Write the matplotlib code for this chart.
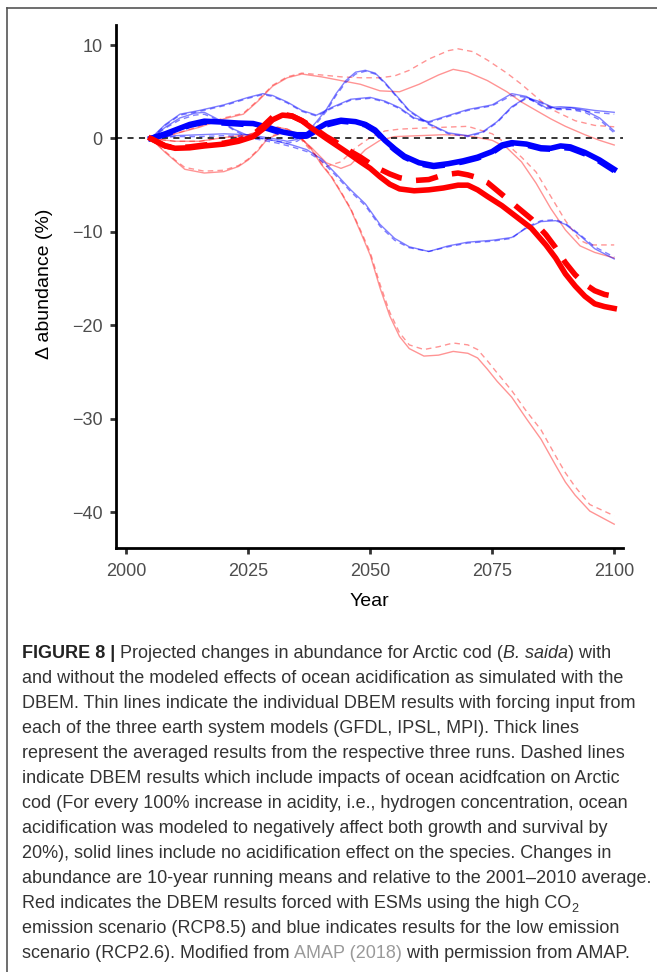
"""Arctic cod abundance projections (DBEM, RCP8.5 vs RCP2.6) with caption."""

import matplotlib
matplotlib.use("Agg")
import matplotlib.pyplot as plt
from matplotlib.lines import Line2D

W, H = 657, 972

# ---- data (Δ abundance, %) ----
# red = RCP8.5, blue = RCP2.6; "_oa" = with acidification (dashed)
red1_years = [2005, 2010, 2015, 2020, 2024, 2027, 2030, 2033, 2036, 2040, 2044, 2048, 2052,
              2056, 2060, 2064, 2067, 2070, 2074, 2078, 2081, 2084, 2087, 2090, 2094, 2097, 2100]
red1 = [0, 0.5, 1.2, 2.1, 2.6, 4.0, 5.6, 6.5, 6.9, 6.6, 6.2, 5.8, 5.1,
        5.0, 5.8, 6.8, 7.4, 7.1, 6.2, 5.0, 3.9, 3.0, 2.1, 1.3, 0.4, -0.2, -0.7]
red1_oa_years = [2005, 2010, 2015, 2020, 2024, 2027, 2030, 2033, 2036, 2040, 2044, 2048, 2052,
                 2055, 2058, 2062, 2066, 2068, 2071, 2074, 2078, 2081, 2085, 2088, 2092, 2096, 2100]
red1_oa = [0, 0.5, 1.3, 2.2, 2.7, 4.1, 5.7, 6.6, 7.0, 6.8, 6.6, 6.5, 6.5,
           6.7, 7.3, 8.5, 9.4, 9.6, 9.3, 8.4, 7.0, 5.8, 4.0, 2.9, 1.9, 1.4, 1.25]

red2_years = [2005, 2010, 2015, 2020, 2025, 2028, 2031, 2033, 2035, 2038, 2040, 2042, 2044, 2046,
              2048, 2050, 2052, 2054, 2056, 2058, 2061, 2064, 2067, 2070, 2072, 2074, 2076,
              2079, 2082, 2085, 2088, 2090, 2092, 2095, 2100]
red2 = [0, -0.3, -0.3, 0.1, 0.4, 0.9, 1.2, 1.0, 0.5, -1.2, -2.8, -4.1, -5.8, -7.6,
        -10.0, -12.5, -16.0, -19.0, -21.2, -22.5, -23.3, -23.2, -22.8, -23.0, -23.5, -24.7, -26.0,
        -27.7, -30.0, -32.2, -35.0, -36.8, -38.2, -39.9, -41.3]
red2_oa_years = [2005, 2010, 2015, 2020, 2025, 2028, 2031, 2033, 2035, 2038, 2040, 2042, 2044, 2046,
                 2048, 2050, 2052, 2054, 2056, 2058, 2061, 2064, 2067, 2070, 2072, 2074, 2076,
                 2079, 2082, 2085, 2088, 2090, 2092, 2095, 2100]
red2_oa = [0, -0.3, -0.3, 0.1, 0.4, 0.9, 1.2, 1.0, 0.5, -1.1, -2.7, -4.0, -5.7, -7.5,
           -9.8, -12.2, -15.6, -18.6, -20.8, -22.1, -22.6, -22.3, -21.9, -22.1, -22.6, -23.8, -25.1,
           -27.0, -29.2, -31.2, -34.0, -35.8, -37.3, -39.2, -40.4]

red3_years = [2005, 2008, 2010, 2012, 2016, 2020, 2023, 2025, 2027, 2029, 2032, 2035, 2038, 2041,
              2044, 2046, 2049, 2052, 2055, 2060, 2065, 2070, 2075, 2078, 2081, 2084, 2087,
              2090, 2093, 2096, 2100]
red3 = [0, -1.5, -2.4, -3.3, -3.7, -3.55, -3.0, -2.3, -1.3, 0.0, 0.6, 0.4, -1.0, -2.6,
        -3.2, -2.8, -1.2, -0.2, 0.2, 0.3, 0.4, 0.3, -0.2, -1.0, -2.5, -4.8, -7.5,
        -9.8, -11.5, -12.2, -12.8]
red3_oa_years = [2005, 2008, 2010, 2012, 2016, 2020, 2023, 2025, 2027, 2029, 2032, 2035, 2038, 2041,
                 2044, 2047, 2050, 2053, 2056, 2060, 2065, 2070, 2075, 2078, 2081, 2084, 2087,
                 2090, 2093, 2095, 2100]
red3_oa = [0, -1.4, -2.3, -3.1, -3.5, -3.4, -2.9, -2.2, -1.2, 0.1, 0.7, 0.4, -1.4, -3.0,
           -2.5, -1.0, 0.1, 0.8, 1.0, 1.1, 1.2, 1.3, 0.5, -0.6, -2.0, -3.6, -6.2,
           -8.8, -10.9, -11.4, -11.4]

blue1_years = [2005, 2008, 2011, 2014, 2016, 2019, 2022, 2025, 2028, 2031, 2034, 2037, 2040, 2043,
               2046, 2049, 2052, 2055, 2058, 2062, 2066, 2070, 2075, 2079, 2082, 2085, 2088,
               2090, 2093, 2096, 2100]
blue1 = [0, 1.2, 2.2, 2.7, 2.8, 2.0, 1.0, 0.3, 0.0, -0.3, -0.7, -1.2, -2.2, -3.8,
         -5.5, -7.0, -9.2, -10.7, -11.6, -12.1, -11.5, -11.1, -10.9, -10.6, -9.6, -8.9, -8.8,
         -9.2, -10.4, -11.8, -12.9]
blue1_oa = [0, 1.1, 2.0, 2.5, 2.6, 1.9, 0.9, 0.1, -0.2, -0.5, -0.9, -1.4, -2.4, -4.0,
            -5.7, -7.2, -9.4, -10.9, -11.7, -12.1, -11.6, -11.2, -11.0, -10.7, -9.5, -8.8, -8.7,
            -9.1, -10.3, -11.6, -12.7]

blue2_years = [2005, 2010, 2015, 2020, 2025, 2030, 2033, 2035, 2037, 2039, 2041, 2043, 2045, 2047,
               2049, 2051, 2053, 2055, 2058, 2062, 2066, 2070, 2073, 2076, 2079, 2082, 2085,
               2088, 2091, 2094, 2097, 2100]
blue2 = [0, 0.3, 0.4, 0.5, 0.4, 0.0, -0.3, -0.1, 0.6, 1.8, 3.1, 4.8, 6.2, 7.1,
         7.3, 7.0, 6.0, 4.8, 3.0, 1.6, 0.6, 0.3, 0.7, 1.8, 3.4, 4.4, 3.9,
         3.2, 3.3, 3.0, 2.2, 0.8]
blue2_oa = [0, 0.2, 0.2, 0.3, 0.2, -0.2, -0.5, -0.3, 0.4, 1.6, 2.9, 4.6, 6.0, 6.9,
            7.2, 6.9, 5.9, 4.7, 2.9, 1.5, 0.5, 0.2, 0.6, 1.7, 3.3, 4.3, 3.8,
            3.1, 3.1, 2.8, 2.0, 0.6]

blue3_years = [2005, 2008, 2011, 2015, 2020, 2025, 2028, 2030, 2033, 2036, 2039, 2042, 2046, 2050,
               2053, 2056, 2059, 2062, 2065, 2070, 2075, 2079, 2082, 2086, 2089, 2092, 2096, 2100]
blue3 = [0, 1.5, 2.6, 3.0, 3.6, 4.4, 4.8, 4.6, 3.9, 3.0, 2.5, 3.3, 4.2, 4.4,
         4.0, 3.3, 2.2, 1.8, 2.3, 3.1, 3.6, 4.8, 4.5, 3.3, 3.4, 3.3, 3.0, 2.8]
blue3_oa = [0, 1.4, 2.5, 2.9, 3.5, 4.3, 4.7, 4.5, 3.8, 2.9, 2.4, 3.2, 4.1, 4.3,
            3.9, 3.2, 2.1, 1.7, 2.2, 3.0, 3.5, 4.6, 4.4, 3.2, 3.2, 3.1, 2.8, 2.6]

# ensemble means (thick)
red_mean_years = [2005, 2008, 2010, 2013, 2016, 2020, 2023, 2026, 2028, 2030, 2032, 2034, 2036,
                  2038, 2041, 2043, 2045, 2048, 2050, 2052, 2054, 2056, 2059, 2062, 2065, 2068,
                  2070, 2072, 2074, 2077, 2080, 2083, 2086, 2088, 2090, 2092, 2094, 2096, 2098, 2100]
red_mean = [0, -0.8, -1.05, -1.0, -0.8, -0.6, -0.3, 0.2, 1.0, 2.0, 2.5, 2.4, 1.9,
            1.1, 0.0, -0.7, -1.4, -2.5, -3.2, -4.1, -4.9, -5.4, -5.6, -5.5, -5.3, -5.0,
            -5.0, -5.5, -6.2, -7.2, -8.4, -9.6, -11.4, -12.8, -14.5, -15.8, -16.9, -17.7, -18.0, -18.2]
red_mean_oa = [0, -0.8, -1.0, -0.9, -0.7, -0.5, -0.2, 0.4, 1.3, 2.3, 2.6, 2.4, 1.9,
               1.3, 0.2, -0.4, -1.1, -2.0, -2.7, -3.3, -3.8, -4.2, -4.5, -4.4, -3.9, -3.7,
               -3.9, -4.2, -4.7, -6.0, -7.3, -8.6, -10.3, -11.7, -13.3, -14.6, -15.6, -16.3, -16.7, -16.9]

blue_mean_years = [2005, 2008, 2010, 2013, 2016, 2020, 2023, 2026, 2029, 2032, 2035, 2037, 2039,
                   2041, 2044, 2047, 2049, 2051, 2053, 2055, 2057, 2060, 2063, 2066, 2069, 2072,
                   2075, 2077, 2079, 2082, 2085, 2087, 2089, 2091, 2094, 2097, 2100]
blue_mean = [0, 0.5, 0.9, 1.5, 1.85, 1.75, 1.65, 1.6, 1.2, 0.7, 0.4, 0.4, 1.0,
             1.6, 1.95, 1.8, 1.5, 0.9, -0.2, -1.1, -1.9, -2.6, -2.9, -2.7, -2.4, -2.0,
             -1.4, -0.7, -0.45, -0.6, -1.0, -1.05, -0.8, -0.9, -1.5, -2.3, -3.3]
blue_mean_oa = [0, 0.4, 0.8, 1.4, 1.75, 1.65, 1.55, 1.45, 1.05, 0.55, 0.25, 0.25, 0.85,
                1.45, 1.85, 1.7, 1.45, 0.8, -0.3, -1.2, -2.0, -2.7, -3.0, -2.8, -2.5, -2.1,
                -1.5, -0.8, -0.55, -0.7, -1.1, -1.15, -0.95, -1.05, -1.65, -2.45, -3.45]

x_ticks = [2000, 2025, 2050, 2075, 2100]
y_ticks = [-40, -30, -20, -10, 0, 10]

caption = [
    [("FIGURE 8 | ", "bold"), ("Projected changes in abundance for Arctic cod (", ""),
     ("B. saida", "italic"), (") with", "")],
    [("and without the modeled effects of ocean acidification as simulated with the", "")],
    [("DBEM. Thin lines indicate the individual DBEM results with forcing input from", "")],
    [("each of the three earth system models (GFDL, IPSL, MPI). Thick lines", "")],
    [("represent the averaged results from the respective three runs. Dashed lines", "")],
    [("indicate DBEM results which include impacts of ocean acidfcation on Arctic", "")],
    [("cod (For every 100% increase in acidity, i.e., hydrogen concentration, ocean", "")],
    [("acidification was modeled to negatively affect both growth and survival by", "")],
    [("20%), solid lines include no acidification effect on the species. Changes in", "")],
    [("abundance are 10-year running means and relative to the 2001\u20132010 average.", "")],
    [("Red indicates the DBEM results forced with ESMs using the high CO", ""), ("2", "sub")],
    [("emission scenario (RCP8.5) and blue indicates results for the low emission", "")],
    [("scenario (RCP2.6). Modified from ", ""), ("AMAP (2018)", "link"),
     (" with permission from AMAP.", "")],
]

FONT = ["Liberation Sans", "DejaVu Sans"]
CAP_FONT = ["Liberation Sans Narrow", "Liberation Sans", "DejaVu Sans"]


def main():
    fig = plt.figure(figsize=(W / 100, H / 100), dpi=100)
    fig.patch.set_facecolor("white")

    # frame of the figure panel (top and left only)
    fig.add_artist(Line2D([7 / W, 1], [1 - 8 / H, 1 - 8 / H], color="#555555", lw=1.2))
    fig.add_artist(Line2D([7 / W, 7 / W], [0, 1 - 8 / H], color="#555555", lw=1.2))

    ax = fig.add_axes([116 / W, 1 - 548 / H, (623 - 116) / W, (548 - 25) / H])
    ax.set_xlim(1997.9, 2101.8)
    ax.set_ylim(-43.85, 12.15)

    thin = dict(lw=1.0)
    rd, bd = (0, (4, 3)), (0, (4, 3))
    for yrs, vals, ls in [(red1_years, red1, "-"), (red1_oa_years, red1_oa, rd),
                          (red2_years, red2, "-"), (red2_oa_years, red2_oa, rd),
                          (red3_years, red3, "-"), (red3_oa_years, red3_oa, rd)]:
        ax.plot(yrs, vals, color="#ff0000", alpha=0.42, ls=ls, **thin)
    for yrs, vals, ls in [(blue1_years, blue1, "-"), (blue1_years, blue1_oa, bd),
                          (blue2_years, blue2, "-"), (blue2_years, blue2_oa, bd),
                          (blue3_years, blue3, "-"), (blue3_years, blue3_oa, bd)]:
        ax.plot(yrs, vals, color="#0000ff", alpha=0.5, ls=ls, **thin)

    ax.axhline(0, color="black", lw=1.1, ls=(0, (4, 3.5)), zorder=3)

    thick = 4.0
    ax.plot(blue_mean_years, blue_mean_oa, color="#0000ff", lw=thick, ls=(0, (4, 2.6)), zorder=4)
    ax.plot(blue_mean_years, blue_mean, color="#0000ff", lw=thick, zorder=4)
    ax.plot(red_mean_years, red_mean_oa, color="#ff0000", lw=thick, ls=(0, (4, 2.6)), zorder=5)
    ax.plot(red_mean_years, red_mean, color="#ff0000", lw=thick, zorder=5)

    for side in ["top", "right"]:
        ax.spines[side].set_visible(False)
    for side in ["left", "bottom"]:
        ax.spines[side].set_linewidth(2.0)
        ax.spines[side].set_color("black")
    ax.set_xticks(x_ticks)
    ax.set_yticks(y_ticks)
    ax.tick_params(length=4.5, width=2.0, color="#333333", labelcolor="#4d4d4d",
                   labelsize=13, pad=5)
    ax.tick_params(axis="x", pad=6.5)
    for lab in ax.get_xticklabels() + ax.get_yticklabels():
        lab.set_family(FONT)

    fig.text(369 / W, 1 - 602 / H, "Year", ha="center", va="center",
             fontsize=14, family=FONT, color="black")
    fig.text(45 / W, 1 - 284 / H, "\u0394 abundance (%)", ha="center", va="center",
             rotation=90, fontsize=14, family=FONT, color="black")

    # caption, laid out run by run
    renderer = fig.canvas.get_renderer()
    probe = fig.text(0, 0, caption[9][0][0], fontsize=10, family=CAP_FONT)
    size = 10 * 630 / probe.get_window_extent(renderer).width
    probe.remove()

    styles = {
        "": dict(color="#333333"),
        "bold": dict(color="#222222", weight="bold"),
        "italic": dict(color="#333333", style="italic"),
        "link": dict(color="#9a9a9a"),
    }
    for i, runs in enumerate(caption):
        x = 22
        base = 658 + 25 * i
        for text, st in runs:
            if st == "sub":
                t = fig.text(x / W, 1 - (base + 4) / H, text, fontsize=size * 0.7,
                             family=CAP_FONT, color="#333333", va="baseline")
            else:
                t = fig.text(x / W, 1 - base / H, text, fontsize=size,
                             family=CAP_FONT, va="baseline", **styles[st])
            x += t.get_window_extent(renderer).width

    fig.savefig("out.png", dpi=100)


if __name__ == "__main__":
    main()
